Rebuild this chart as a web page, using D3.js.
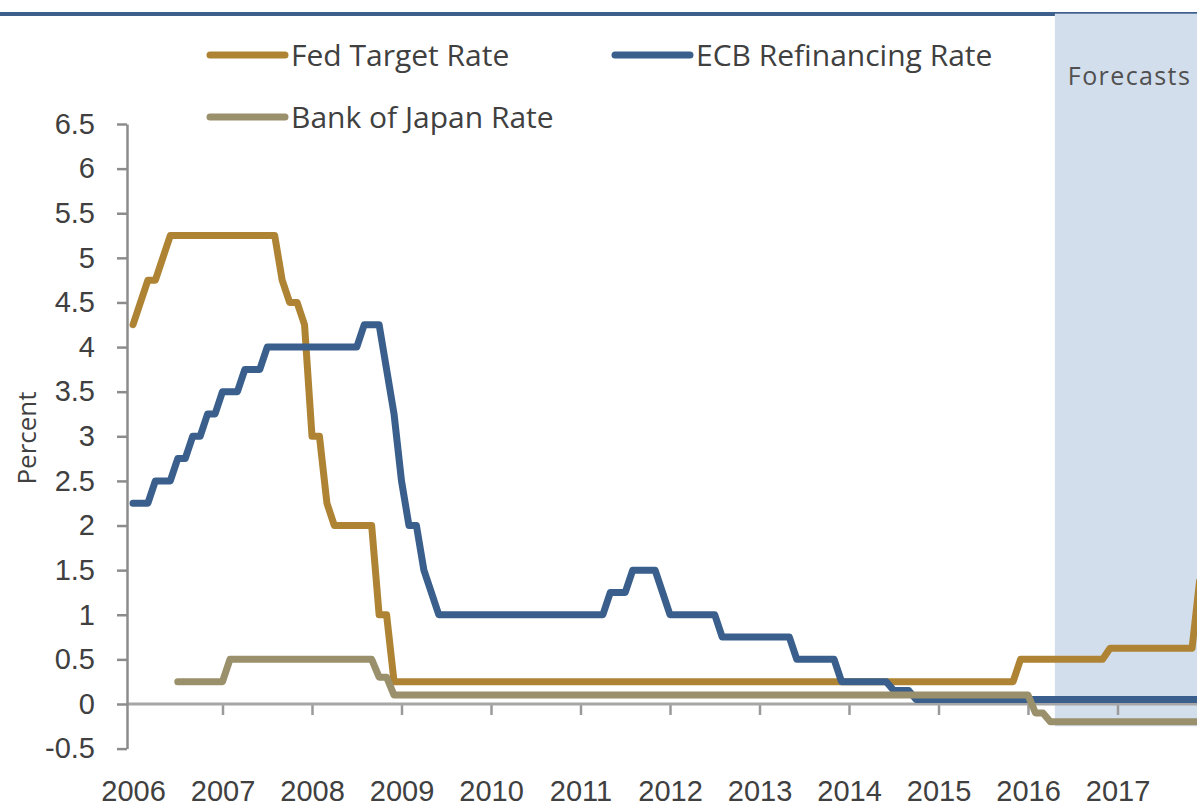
<!DOCTYPE html>
<html>
<head>
<meta charset="utf-8">
<script src="https://cdn.jsdelivr.net/npm/d3@7"></script>
<style>
  html, body { margin: 0; padding: 0; background: #fff; }
  svg { display: block; font-family: "Open Sans", "Noto Sans", sans-serif; }
</style>
</head>
<body>
<svg id="chart" width="1197" height="810"></svg>
<script>
// Data (month values, "YYYY-MM")
const fedMonths = ["2006-01", "2006-03", "2006-04", "2006-05", "2006-06", "2007-08", "2007-09", "2007-10",
  "2007-11", "2007-12", "2008-01", "2008-02", "2008-03", "2008-04", "2008-09", "2008-10", "2008-11",
  "2008-12", "2015-11", "2015-12", "2016-11", "2016-12", "2017-11", "2017-12"];
const fedRates = [4.25, 4.75, 4.75, 5.0, 5.25, 5.25, 4.75, 4.5,
  4.5, 4.25, 3.0, 3.0, 2.25, 2.0, 2.0, 1.0, 1.0,
  0.25, 0.25, 0.5, 0.5, 0.625, 0.625, 1.375];

const ecbMonths = ["2006-01", "2006-03", "2006-04", "2006-06", "2006-07", "2006-08", "2006-09", "2006-10",
  "2006-11", "2006-12", "2007-01", "2007-03", "2007-04", "2007-06", "2007-07", "2008-07", "2008-08",
  "2008-10", "2008-11", "2008-12", "2009-01", "2009-02", "2009-03", "2009-04", "2009-05", "2009-06",
  "2011-04", "2011-05", "2011-07", "2011-08", "2011-11", "2011-12", "2012-01", "2012-07", "2012-08",
  "2013-05", "2013-06", "2013-11", "2013-12", "2014-06", "2014-07", "2014-09", "2014-10", "2017-12"];
const ecbRates = [2.25, 2.25, 2.5, 2.5, 2.75, 2.75, 3.0, 3.0,
  3.25, 3.25, 3.5, 3.5, 3.75, 3.75, 4.0, 4.0, 4.25,
  4.25, 3.75, 3.25, 2.5, 2.0, 2.0, 1.5, 1.25, 1.0,
  1.0, 1.25, 1.25, 1.5, 1.5, 1.25, 1.0, 1.0, 0.75,
  0.75, 0.5, 0.5, 0.25, 0.25, 0.15, 0.15, 0.05, 0.05];

const bojMonths = ["2006-07", "2007-01", "2007-02", "2008-09", "2008-10", "2008-11", "2008-12",
  "2016-01", "2016-02", "2016-03", "2016-04", "2017-12"];
const bojRates = [0.25, 0.25, 0.5, 0.5, 0.3, 0.3, 0.1,
  0.1, -0.1, -0.1, -0.2, -0.2];

const seriesNames = ["Fed Target Rate", "ECB Refinancing Rate", "Bank of Japan Rate"];
const seriesColors = ["#ae8434", "#3a5f8c", "#9a906b"];

const yTicks = [-0.5, 0, 0.5, 1, 1.5, 2, 2.5, 3, 3.5, 4, 4.5, 5, 5.5, 6, 6.5];
const xTicks = [2006, 2007, 2008, 2009, 2010, 2011, 2012, 2013, 2014, 2015, 2016, 2017];

const forecastStart = 2016.3; // shaded forecast band begins here
const forecastFloor = -0.25;

// helpers
function toYear(s) {
  const [yy, mm] = s.split("-").map(Number);
  return yy + (mm - 1) / 12;
}
function makeSeries(months, rates) {
  return months.map((m, i) => ({ t: toYear(m), v: rates[i] }));
}

const series = [
  makeSeries(fedMonths, fedRates),
  makeSeries(ecbMonths, ecbRates),
  makeSeries(bojMonths, bojRates),
];

// Layout
const svg = d3.select("#chart");
const W = +svg.attr("width");
const axisX = 127; // vertical axis position
const textColor = "#404040";

const x = d3.scaleLinear().domain([2006, 2018]).range([133, 1207]);
const y = d3.scaleLinear().domain([-0.5, 6.5]).range([748.6, 124]);

// Top rule (title bar underline)
svg.append("rect")
  .attr("x", 0).attr("y", 12)
  .attr("width", W).attr("height", 4)
  .attr("fill", "#3c5f8b");

// Forecast shading
svg.append("rect")
  .attr("x", x(forecastStart))
  .attr("y", 13.7)
  .attr("width", W - x(forecastStart))
  .attr("height", y(forecastFloor) - 13.7)
  .attr("fill", "#d3deed");

svg.append("text")
  .attr("x", x(forecastStart) + 13)
  .attr("y", 85)
  .attr("font-size", 25)
  .attr("letter-spacing", 1.4)
  .attr("fill", "#505050")
  .text("Forecasts");

// Zero line / x-axis
const xAxis = svg.append("g")
  .attr("transform", `translate(0,${y(0)})`)
  .call(d3.axisBottom(x).tickValues(xTicks).tickSize(11).tickSizeOuter(0).tickFormat(d3.format("d")));
xAxis.select(".domain").remove();
xAxis.selectAll(".tick line")
  .attr("stroke", "#9a9a9a")
  .attr("stroke-width", 2.5)
  .filter((d) => d === 2006)
  .remove();
xAxis.selectAll(".tick text")
  .attr("y", 97)
  .attr("dy", 0)
  .attr("font-size", 29)
  .attr("font-family", null)
  .attr("fill", textColor);
xAxis.append("line")
  .attr("x1", axisX).attr("x2", W)
  .attr("y1", 0).attr("y2", 0)
  .attr("stroke", "#a6a6a6")
  .attr("stroke-width", 3);

// y-axis
const yAxis = svg.append("g")
  .attr("transform", `translate(${axisX},0)`)
  .call(d3.axisLeft(y).tickValues(yTicks).tickSize(10).tickSizeOuter(0).tickPadding(22).tickFormat((d) => String(d)));
yAxis.select(".domain").attr("stroke", "#8c8c8c").attr("stroke-width", 2.5);
yAxis.selectAll(".tick line").attr("stroke", "#8c8c8c").attr("stroke-width", 2.5);
yAxis.selectAll(".tick text")
  .attr("font-size", 29)
  .attr("font-family", null)
  .attr("fill", textColor);

// y-axis title
svg.append("text")
  .attr("transform", "translate(36,438) rotate(-90)")
  .attr("text-anchor", "middle")
  .attr("font-size", 26)
  .attr("fill", textColor)
  .text("Percent");

// Lines
const line = d3.line()
  .x((d) => x(d.t))
  .y((d) => y(d.v));

svg.append("g")
  .selectAll("path")
  .data(series)
  .join("path")
  .attr("d", line)
  .attr("fill", "none")
  .attr("stroke", (d, i) => seriesColors[i])
  .attr("stroke-width", 7)
  .attr("stroke-linejoin", "round")
  .attr("stroke-linecap", "round");

// Legend
const legendPos = [
  { x: 210, y: 55 },
  { x: 615, y: 55 },
  { x: 210, y: 117 },
];
const legend = svg.append("g")
  .selectAll("g")
  .data(seriesNames)
  .join("g")
  .attr("transform", (d, i) => `translate(${legendPos[i].x},${legendPos[i].y})`);

legend.append("line")
  .attr("x1", 0).attr("x2", 75)
  .attr("stroke", (d, i) => seriesColors[i])
  .attr("stroke-width", 7)
  .attr("stroke-linecap", "round");

legend.append("text")
  .attr("x", 81)
  .attr("y", 11)
  .attr("font-size", 30)
  .attr("fill", textColor)
  .text((d) => d);
</script>
</body>
</html>
